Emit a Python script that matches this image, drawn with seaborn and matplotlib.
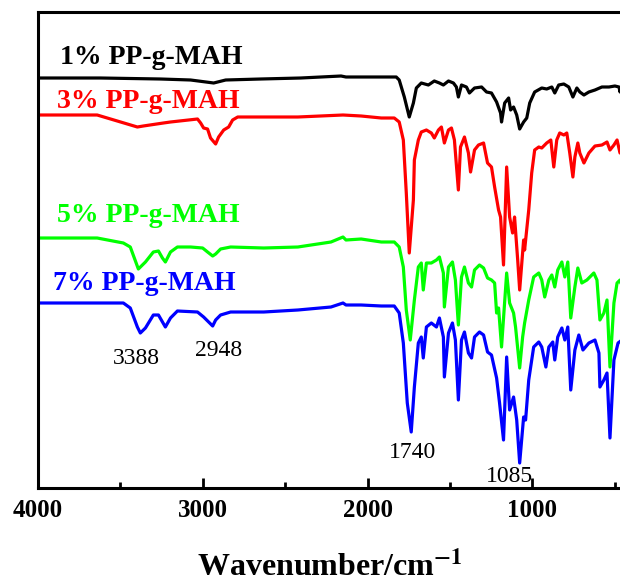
import matplotlib
matplotlib.use("Agg")
import matplotlib.pyplot as plt
import seaborn as sns
import pandas as pd

# ---------------- data (wavenumber in cm-1, offset transmittance in a.u.) ----------------
wn_1 = [4000, 3622, 3257, 3074, 2934, 2861, 2648, 2405, 2161, 2131, 1826, 1808, 1777, 1747,
        1722, 1704, 1674, 1631, 1595, 1564, 1540, 1509, 1479, 1461, 1449, 1430, 1400, 1382,
        1351, 1308, 1278, 1248, 1217, 1193, 1187, 1168, 1144, 1132, 1114, 1095, 1077, 1053,
        1034, 1016, 986, 943, 913, 882, 864, 840, 809, 779, 754, 730, 712, 687, 657, 620,
        578, 535, 499, 474, 468, 456]
t_1 = [410, 410, 409, 408, 405, 408, 409, 410, 412, 411, 411, 408, 391, 371,
       385, 400, 405, 403, 407, 405, 403, 407, 405, 401, 391, 403, 401, 395,
       400, 401, 396, 395, 386, 375, 366, 385, 390, 378, 381, 373, 359, 366,
       370, 385, 396, 400, 399, 401, 395, 403, 404, 401, 391, 400, 396, 393, 396, 398,
       401, 401, 402, 401, 396, 405]

wn_3 = [4000, 3641, 3397, 3361, 3239, 3196, 3032, 3013, 2995, 2971, 2953, 2922, 2904, 2873,
        2843, 2819, 2788, 2630, 2423, 2149, 2039, 1917, 1838, 1808, 1783, 1765, 1747, 1722,
        1716, 1692, 1674, 1643, 1613, 1595, 1570, 1552, 1534, 1509, 1491, 1473, 1449, 1436,
        1412, 1388, 1375, 1351, 1327, 1296, 1272, 1248, 1229, 1205, 1193, 1175, 1156, 1138,
        1120, 1108, 1089, 1077, 1053, 1047, 1022, 1004, 986, 961, 943, 913, 888, 870, 852,
        834, 809, 791, 773, 754, 742, 724, 712, 687, 657, 620, 578, 547, 529, 505, 486, 468, 456]
t_3 = [373, 373, 361, 362, 365, 366, 369, 365, 360, 359, 350, 344, 351, 358,
       361, 368, 371, 371, 371, 373, 372, 370, 370, 366, 348, 295, 235, 288,
       328, 348, 356, 358, 355, 350, 358, 361, 345, 358, 360, 348, 298, 341,
       351, 335, 316, 338, 343, 345, 325, 321, 301, 278, 271, 223, 321, 271,
       255, 271, 228, 198, 248, 238, 278, 315, 338, 341, 340, 345, 348, 321, 348,
       355, 353, 355, 335, 311, 331, 345, 335, 325, 335, 342, 343, 346, 338, 343, 348, 335, 338]

wn_5 = [4000, 3641, 3482, 3440, 3391, 3348, 3300, 3269, 3245, 3227, 3196, 3154, 3074, 3001,
        2971, 2940, 2922, 2892, 2831, 2630, 2423, 2222, 2149, 2131, 2039, 1917, 1838, 1808,
        1783, 1765, 1741, 1716, 1692, 1674, 1662, 1643, 1613, 1582, 1564, 1540, 1534, 1509,
        1485, 1467, 1449, 1430, 1412, 1388, 1369, 1351, 1321, 1296, 1272, 1248, 1229, 1217,
        1205, 1187, 1156, 1138, 1114, 1102, 1077, 1059, 1047, 1022, 992, 961, 943, 925, 900,
        882, 864, 846, 821, 803, 785, 767, 742, 724, 700, 669, 627, 608, 590, 566, 547, 529,
        505, 486, 468, 456]
t_5 = [250, 250, 245, 241, 219, 226, 236, 237, 230, 226, 236, 241, 241, 240,
       236, 232, 234, 239, 241, 240, 241, 246, 251, 248, 249, 246, 246, 241,
       221, 178, 148, 188, 221, 225, 198, 225, 225, 228, 231, 215, 181, 221,
       226, 208, 163, 211, 221, 205, 201, 218, 223, 220, 210, 208, 205, 175,
       180, 141, 215, 185, 175, 161, 120, 151, 165, 188, 211, 215, 208, 191, 208,
       213, 201, 218, 226, 211, 226, 170, 201, 220, 205, 208, 215, 208, 168, 175, 188, 121,
       185, 205, 208, 201]

wn_7 = [4000, 3482, 3440, 3397, 3379, 3348, 3300, 3269, 3227, 3196, 3154, 3032, 2995, 2940,
        2922, 2892, 2831, 2630, 2423, 2222, 2149, 2131, 2039, 1917, 1838, 1808, 1783, 1759,
        1735, 1716, 1692, 1674, 1662, 1643, 1613, 1582, 1564, 1540, 1534, 1509, 1485, 1467,
        1449, 1430, 1412, 1388, 1369, 1351, 1321, 1296, 1272, 1248, 1217, 1199, 1175, 1156,
        1138, 1114, 1095, 1077, 1053, 1041, 1022, 992, 961, 943, 918, 900, 876, 864, 846,
        821, 803, 785, 767, 742, 718, 693, 657, 620, 596, 590, 566, 547, 529, 505, 480, 456]
t_7 = [185, 185, 180, 161, 155, 160, 173, 173, 161, 170, 177, 176, 171, 162,
       168, 173, 176, 176, 178, 181, 185, 183, 183, 182, 182, 175, 145, 85,
       56, 101, 145, 151, 130, 161, 165, 161, 170, 151, 111, 155, 165, 148,
       88, 148, 156, 135, 130, 151, 156, 153, 136, 133, 110, 85, 48, 131,
       78, 91, 68, 25, 71, 68, 108, 141, 146, 141, 121, 141, 146, 128, 151,
       160, 148, 161, 98, 138, 153, 138, 145, 148, 135, 101, 108, 115, 50, 128, 145, 148]

samples = ["1% PP-g-MAH", "3% PP-g-MAH", "5% PP-g-MAH", "7% PP-g-MAH"]
colors = ["#000000", "#FF0000", "#00FF00", "#0000FF"]
peak_labels = ["3388", "2948", "1740", "1085"]

frames = []
for name, w, t in zip(samples, [wn_1, wn_3, wn_5, wn_7], [t_1, t_3, t_5, t_7]):
    frames.append(pd.DataFrame({"wn": w, "T": t, "sample": name}))
df = pd.concat(frames, ignore_index=True)

# ---------------- style ----------------
sns.set_theme(style="white")
plt.rcParams["font.family"] = ["Liberation Serif", "DejaVu Serif"]
plt.rcParams["mathtext.fontset"] = "stix"
plt.rcParams["text.color"] = "black"
plt.rcParams["axes.labelcolor"] = "black"
plt.rcParams["xtick.color"] = "black"
plt.rcParams["ytick.color"] = "black"

fig = plt.figure(figsize=(6.2, 5.83), dpi=100)
ax = fig.add_axes([38 / 620, 95 / 583, 584 / 620, 476 / 583])

sns.lineplot(data=df, x="wn", y="T", hue="sample", palette=dict(zip(samples, colors)),
             estimator=None, sort=False, linewidth=2.3, legend=False, ax=ax)

ax.set_xlim(4000, 456)
ax.set_ylim(0, 476)
ax.set_yticks([])
ax.set_ylabel("")
ax.set_xticks([4000, 3000, 2000, 1000])
ax.set_xticks([3500, 2500, 1500, 500], minor=True)
ax.tick_params(axis="x", which="major", direction="in", length=7, width=2,
               labelsize=18, pad=8, bottom=True, colors="black")
ax.tick_params(axis="x", which="minor", direction="in", length=4, width=2, bottom=True,
               colors="black")
for lbl in ax.get_xticklabels():
    lbl.set_fontweight("bold")
for s in ax.spines.values():
    s.set_linewidth(2.2)
    s.set_color("black")
ax.set_xlabel(r"Wavenumber/cm$^{\mathbf{-1}}$", fontsize=23, fontweight="bold",
              labelpad=20, color="black")

# sample labels
label_pos = [(3866, 431), (3884, 387), (3884, 272), (3909, 205)]
for name, c, (x, y) in zip(samples, colors, label_pos):
    ax.text(x, y, name, color=c, fontsize=20, fontweight="bold", ha="left", va="center")

# peak annotations
peak_pos = [(3400, 130), (2907, 138), (1726, 35), (1138, 11)]
for lab, (x, y) in zip(peak_labels, peak_pos):
    ax.text(x, y, lab, color="black", fontsize=17, ha="center", va="center")

fig.savefig("out.png", dpi=100)
